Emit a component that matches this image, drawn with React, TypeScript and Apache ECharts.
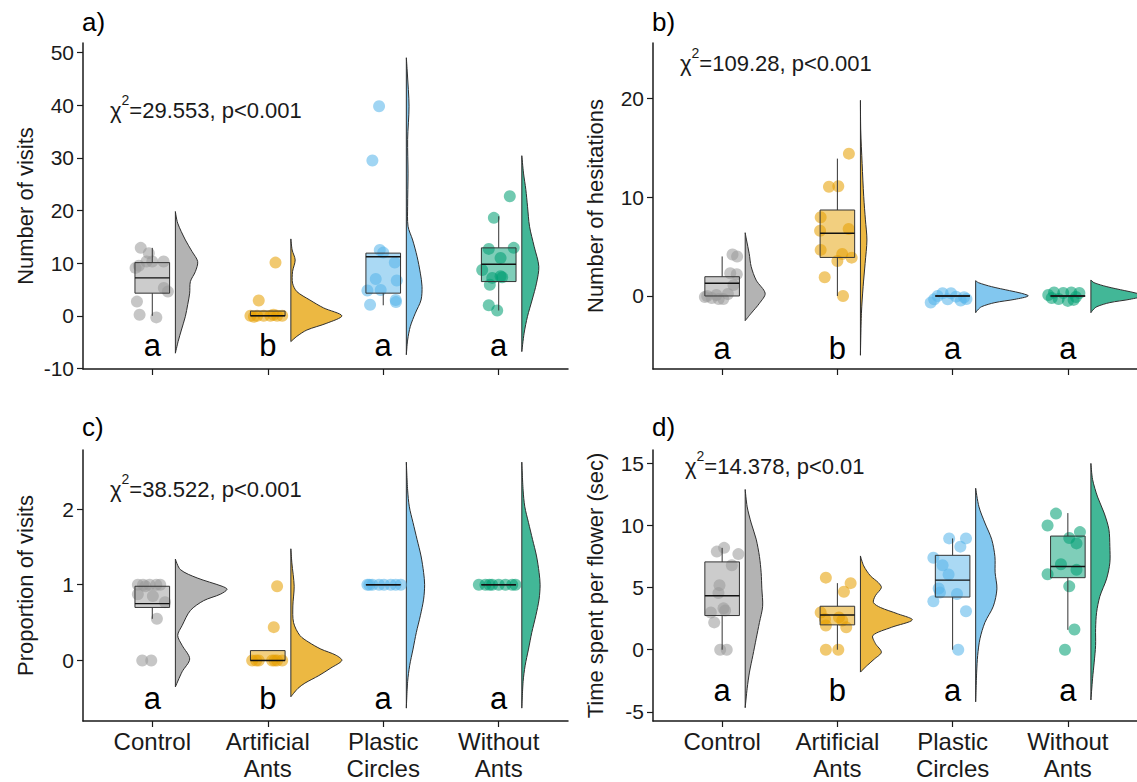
import React, { useEffect, useRef } from 'react';
import * as echarts from 'echarts';

// ---------- categories & colours ----------
const categories = ['Control', 'Artificial\nAnts', 'Plastic\nCircles', 'Without\nAnts'];
const groupColors = ['#999999', '#E69F00', '#56B4E9', '#009E73'];

// ---------- panel a: Number of visits ----------
// points: [jitter offset (category units), value]
const aControl = [[-0.10, 12.9], [-0.03, 11.9], [-0.145, 9.1], [-0.116, 9.5], [-0.05, 10.3], [0.0, 10.3], [0.098, 10.3], [0.10, 5.3], [0.135, 4.6], [-0.133, 2.7], [-0.11, 0.2], [0.035, -0.3]];
const aArtificial = [[0.067, 10.1], [-0.078, 2.9], [-0.15, 0], [-0.092, 0], [-0.035, 0], [0.023, 0], [0.081, 0], [0.125, 0], [-0.12, -0.2], [0.05, 0.2]];
const aPlastic = [[-0.036, 39.8], [-0.094, 29.5], [-0.03, 12.5], [0.0, 12.0], [0.10, 10.1], [-0.065, 7.0], [0.117, 6.7], [-0.137, 4.8], [-0.022, 4.9], [-0.114, 2.1], [0.108, 3.0], [0.11, 2.6]];
const aWithout = [[0.096, 22.7], [-0.042, 18.6], [0.13, 12.9], [-0.086, 12.7], [0.016, 11.0], [-0.143, 8.7], [-0.056, 7.2], [0.016, 7.5], [-0.077, 5.9], [-0.086, 2.0], [-0.013, 1.0], [0.03, 7.3]];
// box stats: [category, lower whisker, q1, median, q3, upper whisker]
const aBoxes = [[1, 0, 4.3, 7.2, 10.1, 12.9], [2, 0, 0, 0, 0.9, 0.9], [3, 2.0, 4.3, 11.2, 11.9, 11.9], [4, 1.0, 6.5, 9.8, 12.9, 18.9]];
// half-violin density profiles: [value, density width]
const vaControl = [[19.8, 0], [17.6, 2.3], [14.4, 10], [12.2, 16.7], [10.3, 22.3], [8.4, 20], [6.5, 15], [4.3, 14.3], [2.1, 12.3], [-0.1, 10], [-2.7, 6], [-4.9, 2.7], [-7.1, 0]];
const vaArtificial = [[14.6, 0], [12.5, 1.3], [10.6, 4.3], [8.4, 1.7], [6.2, 1.7], [4.6, 6], [3.0, 19], [1.5, 32.7], [0, 51], [-1.4, 36], [-2.7, 16], [-3.9, 6], [-4.9, 0]];
const vaPlastic = [[49, 0], [46.1, 1], [39.8, 2.7], [33.5, 1.3], [27.1, 1.7], [20.8, 1.3], [17, 1.7], [14.4, 6.3], [11.3, 10.7], [8.1, 14], [5.6, 15.7], [3, 14.7], [0.5, 9], [-2, 4], [-4.6, 1.3], [-7.4, 0]];
const vaWithout = [[30.4, 0], [27.1, 1.7], [24, 4], [20.8, 5.7], [17, 7.7], [13.2, 12.3], [9.4, 17], [6.2, 14.7], [3, 10.3], [-0.1, 5.7], [-3.3, 2.3], [-6.8, 0]];
const aTicks = [-10, 0, 10, 20, 30, 40, 50];
const aLetters = ['a', 'b', 'a', 'a'];

// ---------- panel b: Number of hesitations ----------
const bControl = [[0.09, 4.2], [0.13, 4.0], [0.07, 2.3], [0.127, 2.2], [0.098, 1.1], [-0.13, 0], [-0.09, -0.2], [-0.03, -0.3], [0.01, -0.3], [-0.15, -0.1], [-0.05, 0.1], [0.05, 0.2]];
const bArtificial = [[0.10, 14.4], [-0.073, 11.06], [0.008, 11.1], [-0.145, 7.97], [0.098, 6.78], [-0.15, 6.6], [-0.145, 4.66], [0.042, 4.25], [0.0, 3.54], [0.124, 3.88], [-0.11, 1.9], [0.049, 0]];
const bPlastic = [[-0.16, -0.33], [-0.13, 0], [-0.087, 0.27], [-0.043, -0.33], [-0.014, 0.27], [0.03, -0.07], [0.07, -0.47], [0.10, -0.13], [-0.19, -0.67], [0.12, -0.3]];
const bWithout = [[-0.17, 0.1], [-0.12, 0.35], [-0.08, -0.3], [-0.04, 0.3], [0.0, -0.5], [0.03, 0.35], [0.07, -0.1], [0.10, 0.3], [-0.14, -0.2], [0.05, -0.4]];
const bBoxes = [[1, 0, 0, 1.28, 1.95, 4.0], [2, 0, 3.9, 6.35, 8.7, 13.9], [3, 0, 0, 0, 0, 0], [4, 0, 0, 0, 0, 0]];
const vbControl = [[6.4, 0], [5.67, 1.3], [4.3, 4], [2.97, 6], [1.6, 11], [0.27, 20], [-0.74, 14.3], [-1.75, 6], [-2.5, 0]];
const vbArtificial = [[19.8, 0], [16.8, 0.3], [13.4, 1.7], [10.05, 3.3], [7.7, 5], [5.67, 6.5], [3.3, 4.7], [0.94, 2.7], [-1.75, 1], [-6, 0]];
const vbPlastic = [[1.55, 0], [1.35, 2.7], [0.94, 16], [0.54, 34], [0.27, 46], [0, 52.7], [-0.34, 39.3], [-0.67, 19.3], [-1.08, 6], [-1.42, 2], [-1.69, 0]];
const vbWithout = [[1.62, 0], [1.35, 3], [0.94, 16], [0.54, 34], [0.27, 46], [0, 52], [-0.34, 39], [-0.67, 19], [-1.08, 6], [-1.42, 2], [-1.69, 0]];
const bTicks = [0, 10, 20];
const bLetters = ['a', 'b', 'a', 'a'];

// ---------- panel c: Proportion of visits ----------
const cControl = [[-0.125, 1.0], [-0.08, 1.0], [-0.023, 1.0], [0.035, 1.0], [0.069, 1.0], [-0.125, 0.875], [0.005, 0.85], [0.11, 0.77], [0.04, 0.55], [-0.087, 0.0], [-0.009, 0.0], [-0.06, 0.98]];
const cArtificial = [[0.081, 0.98], [0.052, 0.44], [-0.135, 0], [-0.078, 0], [0.038, 0], [0.081, 0], [0.125, 0], [-0.1, 0], [0.06, 0]];
const cPlastic = [[-0.137, 1], [-0.094, 1], [-0.036, 1], [0.007, 1], [0.065, 1], [0.108, 1], [0.152, 1], [-0.12, 1]];
const cWithout = [[-0.172, 1], [-0.115, 1], [-0.057, 1], [0, 1], [0.058, 1], [0.117, 1], [0.145, 1], [-0.08, 1]];
const cBoxes = [[1, 0.55, 0.70, 0.75, 0.98, 0.98], [2, 0, 0, 0, 0.13, 0.13], [3, 1, 1, 1, 1, 1], [4, 1, 1, 1, 1, 1]];
const vcControl = [[1.34, 0], [1.2, 5], [1.09, 21.7], [0.98, 46.7], [0.94, 51.7], [0.875, 45], [0.79, 28.3], [0.66, 15], [0.46, 6.7], [0.33, 2.3], [0.2, 6.7], [0.02, 14.3], [-0.15, 6.7], [-0.35, 0]];
const vcArtificial = [[1.475, 0], [1.29, 1], [0.98, 3.3], [0.72, 2], [0.5, 2.7], [0.33, 9], [0.24, 18], [0.15, 30], [0.07, 45], [0, 51], [-0.1, 40], [-0.2, 28], [-0.3, 14], [-0.37, 7], [-0.48, 0]];
const vcPlastic = [[2.62, 0], [2.25, 1.3], [2.03, 3], [1.82, 6.7], [1.6, 10.7], [1.38, 14.7], [1.16, 17.3], [1.0, 18.3], [0.81, 17.3], [0.59, 14], [0.37, 10], [0.15, 6.7], [-0.07, 3.3], [-0.28, 1.3], [-0.63, 0]];
const vcWithout = [[2.62, 0], [2.25, 1.3], [2.03, 3], [1.82, 6.7], [1.6, 10.7], [1.38, 14.7], [1.16, 17.3], [1.0, 18.3], [0.81, 17.3], [0.59, 14], [0.37, 10], [0.15, 6.7], [-0.07, 3.3], [-0.28, 1.3], [-0.63, 0]];
const cTicks = [0, 1, 2];
const cLetters = ['a', 'b', 'a', 'a'];

// ---------- panel d: Time spent per flower ----------
const dControl = [[0.017, 8.2], [-0.046, 7.9], [0.141, 7.7], [0.084, 6.8], [-0.023, 5.2], [-0.032, 4.56], [0.012, 3.33], [-0.098, 3.0], [-0.069, 2.2], [0.026, 3.15], [-0.017, 0], [0.04, 0]];
const dArtificial = [[-0.1, 5.8], [0.115, 5.36], [0.057, 4.67], [-0.145, 3.0], [-0.107, 2.48], [0.042, 2.35], [0.077, 1.8], [-0.1, 1.95], [0.014, 2.6], [-0.1, 0], [0.008, 0]];
const dPlastic = [[-0.03, 8.96], [0.116, 8.96], [0.067, 8.3], [-0.167, 7.4], [-0.087, 6.8], [-0.035, 6.05], [-0.121, 4.93], [0.038, 4.48], [-0.167, 3.9], [0.116, 3.1], [0.049, 0], [-0.11, 4.6]];
const dWithout = [[-0.103, 10.96], [-0.176, 10.0], [0.105, 9.47], [0.012, 9.0], [0.075, 8.56], [-0.06, 6.88], [0.075, 6.43], [-0.176, 6.08], [0.012, 5.1], [0.057, 1.63], [-0.025, 0]];
const dBoxes = [[1, 0, 2.75, 4.35, 7.07, 8.2], [2, 0, 2.0, 2.8, 3.5, 5.36], [3, 0, 4.24, 5.6, 7.6, 8.96], [4, 1.6, 5.8, 6.7, 9.15, 11.0]];
const vdControl = [[12.9, 0], [11.5, 2], [10.2, 6], [8.9, 11], [7.5, 14.3], [6.2, 16], [4.9, 16.7], [3.5, 17.5], [2.2, 14.3], [0.88, 11], [-0.46, 7.7], [-1.8, 4.3], [-3.1, 2], [-4.67, 0]];
const vdArtificial = [[7.55, 0], [6.75, 3.3], [5.95, 10], [5.4, 18], [5.0, 21], [4.35, 15], [3.8, 13], [3.4, 20], [2.9, 37], [2.4, 52], [1.8, 31], [1.15, 12.5], [0.5, 15], [-0.2, 21], [-0.75, 14], [-1.25, 7], [-1.8, 0]];
const vdPlastic = [[13, 0], [11.5, 3.3], [10.2, 9.3], [8.9, 16], [7.5, 19.3], [6.2, 19.5], [4.9, 21.3], [3.5, 17.7], [2.2, 9.3], [0.88, 4.3], [-0.46, 2], [-1.8, 1], [-4.2, 0]];
const vdWithout = [[15, 0], [13.7, 1.7], [12.3, 6.7], [11, 13.3], [9.7, 18], [8.3, 19], [7, 19], [5.7, 15.7], [4.3, 9], [3, 5.7], [1.7, 4.7], [0.34, 4.7], [-1, 3.3], [-2.3, 1.7], [-4.05, 0]];
const dTicks = [-5, 0, 5, 10, 15];
const dLetters = ['a', 'b', 'a', 'a'];

// ---------- layout / style constants ----------
const FONT = '"Liberation Sans", Arial, Helvetica, sans-serif';
const X_MIN = 0.4;
const X_MAX = 4.6;
const VIOLIN_OFFSET = 0.2;
const VIOLIN_SCALE = 1 / 115.5;
const BOX_HALF = 0.15;
const INK = '#1a1a1a';

function rgba(hex: string, a: number) {
  const n = parseInt(hex.slice(1), 16);
  return `rgba(${(n >> 16) & 255},${(n >> 8) & 255},${n & 255},${a})`;
}

const panels = [
  {
    label: 'a)', yName: 'Number of visits', yMin: -10.1, yMax: 51.8, ticks: aTicks, letters: aLetters, letterY: -5.7,
    chi: '=29.553, p<0.001', chiPos: [110, 108], labelPos: [82, 23],
    points: [aControl, aArtificial, aPlastic, aWithout], violins: [vaControl, vaArtificial, vaPlastic, vaWithout], boxes: aBoxes,
    grid: { left: 83, top: 43, width: 485, height: 326 }, showX: false,
  },
  {
    label: 'b)', yName: 'Number of hesitations', yMin: -7.39, yMax: 25.6, ticks: bTicks, letters: bLetters, letterY: -5.3,
    chi: '=109.28, p<0.001', chiPos: [680, 61], labelPos: [652, 23],
    points: [bControl, bArtificial, bPlastic, bWithout], violins: [vbControl, vbArtificial, vbPlastic, vbWithout], boxes: bBoxes,
    grid: { left: 653, top: 43, width: 485, height: 326 }, showX: false,
  },
  {
    label: 'c)', yName: 'Proportion of visits', yMin: -0.8, yMax: 2.78, ticks: cTicks, letters: cLetters, letterY: -0.5,
    chi: '=38.522, p<0.001', chiPos: [110, 487], labelPos: [82, 428],
    points: [cControl, cArtificial, cPlastic, cWithout], violins: [vcControl, vcArtificial, vcPlastic, vcWithout], boxes: cBoxes,
    grid: { left: 83, top: 450, width: 485, height: 273 }, showX: true,
  },
  {
    label: 'd)', yName: 'Time spent per flower (sec)', yMin: -5.74, yMax: 16.08, ticks: dTicks, letters: dLetters, letterY: -3.25,
    chi: '=14.378, p<0.01', chiPos: [685, 464], labelPos: [652, 428],
    points: [dControl, dArtificial, dPlastic, dWithout], violins: [vdControl, vdArtificial, vdPlastic, vdWithout], boxes: dBoxes,
    grid: { left: 653, top: 450, width: 485, height: 273 }, showX: true,
  },
];

function buildOption() {
  const grid: any[] = [];
  const xAxis: any[] = [];
  const yAxis: any[] = [];
  const series: any[] = [];
  const graphic: any[] = [];

  panels.forEach((p, pi) => {
    grid.push({ ...p.grid, containLabel: false });
    xAxis.push({
      type: 'value', gridIndex: pi, min: X_MIN, max: X_MAX,
      splitLine: { show: false },
      axisLine: { show: true, onZero: false, lineStyle: { color: INK, width: 1.5 } },
      axisTick: { show: true, customValues: [1, 2, 3, 4], length: 6, lineStyle: { color: INK, width: 1.2 } },
      axisLabel: {
        show: p.showX, customValues: [1, 2, 3, 4], margin: 7, fontSize: 24, lineHeight: 27, color: INK, fontFamily: FONT,
        formatter: (v: number) => categories[Math.round(v) - 1] ?? '',
      },
    });
    yAxis.push({
      type: 'value', gridIndex: pi, min: p.yMin, max: p.yMax,
      name: p.yName, nameLocation: 'middle', nameGap: 47,
      nameTextStyle: { fontSize: 22, color: INK, fontFamily: FONT },
      splitLine: { show: false },
      axisLine: { show: true, onZero: false, lineStyle: { color: INK, width: 1.5 } },
      axisTick: { show: true, customValues: p.ticks, length: 6, lineStyle: { color: INK, width: 1.2 } },
      axisLabel: { customValues: p.ticks, fontSize: 21, color: INK, margin: 9, fontFamily: FONT },
    });

    // violins
    series.push({
      type: 'custom', xAxisIndex: pi, yAxisIndex: pi, z: 1, silent: true,
      data: p.violins.map((_, i) => [i + 1]),
      renderItem: (params: any, api: any) => {
        const i = params.dataIndex;
        const prof = p.violins[i];
        const base = i + 1 + VIOLIN_OFFSET;
        const pts = prof.map(([v, w]) => api.coord([base + w * VIOLIN_SCALE, v]));
        const top = api.coord([base, prof[0][0]]);
        const bot = api.coord([base, prof[prof.length - 1][0]]);
        return {
          type: 'group',
          children: [
            { type: 'polyline', shape: { points: pts, smooth: 0.3 }, style: { fill: rgba(groupColors[i], 0.74), stroke: '#2e2e2e', lineWidth: 1 } },
            { type: 'line', shape: { x1: top[0], y1: top[1], x2: bot[0], y2: bot[1] }, style: { stroke: '#2e2e2e', lineWidth: 1 } },
          ],
        };
      },
    });

    // jittered points
    p.points.forEach((pts, i) => {
      series.push({
        type: 'scatter', xAxisIndex: pi, yAxisIndex: pi, z: 2, silent: true,
        symbolSize: 12,
        itemStyle: { color: rgba(groupColors[i], 0.7) },
        data: pts.map(([off, v]) => [i + 1 + off, v]),
      });
    });

    // boxes
    series.push({
      type: 'custom', xAxisIndex: pi, yAxisIndex: pi, z: 3, silent: true,
      data: p.boxes,
      renderItem: (params: any, api: any) => {
        const i = params.dataIndex;
        const cat = api.value(0), lo = api.value(1), q1 = api.value(2), med = api.value(3), q3 = api.value(4), hi = api.value(5);
        const tl = api.coord([cat - BOX_HALF, q3]);
        const br = api.coord([cat + BOX_HALF, q1]);
        const wTop = api.coord([cat, hi]);
        const wQ3 = api.coord([cat, q3]);
        const wQ1 = api.coord([cat, q1]);
        const wLo = api.coord([cat, lo]);
        const mL = api.coord([cat - BOX_HALF, med]);
        const mR = api.coord([cat + BOX_HALF, med]);
        const stroke = '#333333';
        return {
          type: 'group',
          children: [
            { type: 'line', shape: { x1: wTop[0], y1: wTop[1], x2: wQ3[0], y2: wQ3[1] }, style: { stroke, lineWidth: 1 } },
            { type: 'line', shape: { x1: wQ1[0], y1: wQ1[1], x2: wLo[0], y2: wLo[1] }, style: { stroke, lineWidth: 1 } },
            { type: 'rect', shape: { x: tl[0], y: tl[1], width: br[0] - tl[0], height: br[1] - tl[1] }, style: { fill: rgba(groupColors[i], 0.5), stroke, lineWidth: 1 } },
            { type: 'line', shape: { x1: mL[0], y1: mL[1], x2: mR[0], y2: mR[1] }, style: { stroke: '#111111', lineWidth: 1.4 } },
          ],
        };
      },
    });

    // significance letters
    series.push({
      type: 'custom', xAxisIndex: pi, yAxisIndex: pi, z: 4, silent: true,
      data: p.letters.map((_, i) => [i + 1, p.letterY]),
      renderItem: (params: any, api: any) => {
        const c = api.coord([api.value(0), api.value(1)]);
        return {
          type: 'text', x: c[0], y: c[1],
          style: { text: p.letters[params.dataIndex], fontSize: 31, fontFamily: FONT, fill: '#000', align: 'center', verticalAlign: 'middle' },
        };
      },
    });

    graphic.push({
      type: 'text', left: p.labelPos[0], top: p.labelPos[1] - 14,
      style: { text: p.label, fontSize: 26, fontFamily: FONT, fill: '#000' },
    });
    graphic.push({
      type: 'text', left: p.chiPos[0], top: p.chiPos[1] - 15,
      style: {
        text: `{c|χ}{s|2}{t|${p.chi}}`,
        fontFamily: FONT,
        fill: INK,
        rich: {
          c: { fontSize: 22, fontFamily: FONT, fill: INK, lineHeight: 28, verticalAlign: 'bottom' },
          s: { fontSize: 14, fontFamily: FONT, fill: INK, lineHeight: 28, verticalAlign: 'top' },
          t: { fontSize: 22, fontFamily: FONT, fill: INK, lineHeight: 28, verticalAlign: 'bottom' },
        },
      },
    });
  });

  return {
    animation: false,
    backgroundColor: '#ffffff',
    textStyle: { fontFamily: FONT },
    grid, xAxis, yAxis, series, graphic,
  };
}

export default function App() {
  const ref = useRef<HTMLDivElement>(null);
  useEffect(() => {
    if (!ref.current) return;
    const chart = echarts.init(ref.current, undefined, { renderer: 'svg' });
    chart.setOption(buildOption() as any);
    return () => chart.dispose();
  }, []);
  return <div ref={ref} style={{ position: 'absolute', left: 0, top: 0, width: 1137, height: 782 }} />;
}
